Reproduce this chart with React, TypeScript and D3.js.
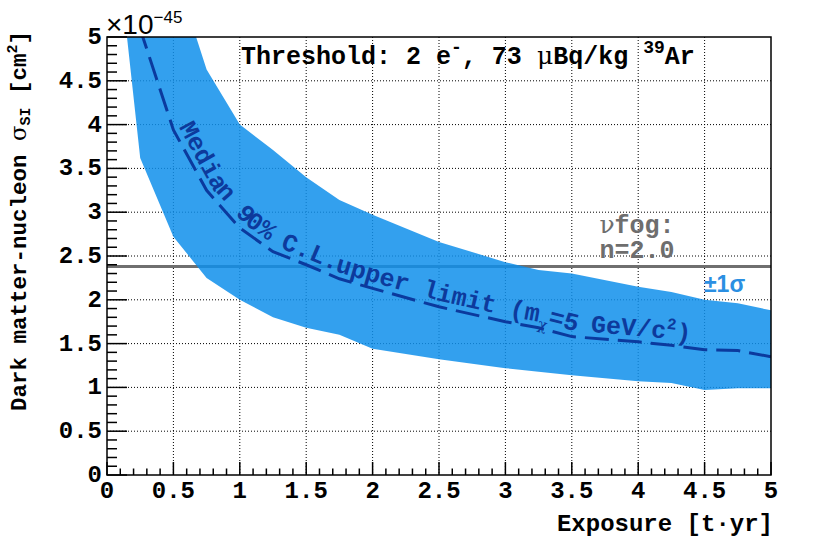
import React from 'react';
import * as d3 from 'd3';

// ---- data ----
const exposure = [0.1, 0.25, 0.5, 0.75, 1.0, 1.25, 1.5, 1.75, 2.0, 2.5, 3.0, 3.25, 3.5, 4.0, 4.25, 4.5, 4.75, 5.0];
const lowerBand = [5.7, 3.62, 2.72, 2.25, 2.0, 1.8, 1.68, 1.6, 1.44, 1.32, 1.22, 1.18, 1.14, 1.07, 1.05, 0.97, 0.99, 0.99];
const medianLimit = [7.0, 5.09, 3.94, 3.25, 2.82, 2.55, 2.4, 2.24, 2.13, 1.92, 1.75, 1.68, 1.58, 1.52, 1.48, 1.43, 1.42, 1.35];
const upperBand = [12.0, 7.5, 5.8, 4.63, 4.0, 3.71, 3.4, 3.14, 2.97, 2.66, 2.43, 2.34, 2.3, 2.15, 2.09, 2.0, 1.96, 1.88];
const fogLevel = [2.38];
const xDomain = [0, 5];
const yDomain = [0, 5];

const W = 830;
const H = 546;
const PL = 107, PR = 771, PT = 37, PB = 475;
const MONO = "'Liberation Mono', 'DejaVu Sans Mono', monospace";
const SANS = "'Liberation Sans', Arial, sans-serif";
const GREEK = "'DejaVu Serif', 'Liberation Serif', serif";

type P = { e: number; lo: number; med: number; hi: number };

export default function App() {
  const x = d3.scaleLinear().domain(xDomain).range([PL, PR]);
  const y = d3.scaleLinear().domain(yDomain).range([PB, PT]);
  const pts: P[] = exposure.map((e, i) => ({ e, lo: lowerBand[i], med: medianLimit[i], hi: upperBand[i] }));
  const area = d3.area<P>().x(d => x(d.e)).y0(d => y(d.lo)).y1(d => y(d.hi));
  const line = d3.line<P>().x(d => x(d.e)).y(d => y(d.med));
  const textPts = pts.filter(p => p.e >= 0.5);

  const xMajor = x.ticks(10);
  const xMinor = x.ticks(50);
  const yMajor = y.ticks(10);
  const yMinor = y.ticks(50);
  const fmt = (v: number) => String(+v.toFixed(2));

  return (
    <svg width={W} height={H} style={{ position: 'absolute', left: 0, top: 0, background: '#fff' }}>
      <defs>
        <clipPath id="plotClip">
          <rect x={PL} y={PT} width={PR - PL} height={PB - PT} />
        </clipPath>
        <path id="medTextPath" d={line(textPts) || ''} />
      </defs>
      <rect x={0} y={0} width={W} height={H} fill="#fff" />

      {/* grid */}
      <g stroke="#000" strokeWidth={1} strokeDasharray="1 2">
        {xMajor.filter(v => v > 0 && v < 5).map(v => (
          <line key={'gx' + v} x1={x(v)} x2={x(v)} y1={PT} y2={PB} />
        ))}
        {yMajor.filter(v => v > 0 && v < 5).map(v => (
          <line key={'gy' + v} x1={PL} x2={PR} y1={y(v)} y2={y(v)} />
        ))}
      </g>

      {/* neutrino fog line */}
      <line x1={PL} x2={PR} y1={y(fogLevel[0])} y2={y(fogLevel[0])} stroke="#6f6f6f" strokeWidth={3} />

      <g clipPath="url(#plotClip)">
        <path d={area(pts) || ''} fill="rgb(15,143,235)" fillOpacity={0.85} />
        <path d={line(pts) || ''} fill="none" stroke="#0b3a9e" strokeWidth={3} strokeDasharray="24 9" />
      </g>

      {/* curved label */}
      <text fill="#0d3a9c" fontFamily={MONO} fontWeight="bold" fontSize={25} style={{ whiteSpace: 'pre' }}>
        <textPath href="#medTextPath" startOffset={0}>
          <tspan dy={-6}>Median 90% C.L.upper limit (m</tspan>
          <tspan fontFamily={GREEK} fontWeight="normal" fontSize={15} dy={7}>χ</tspan>
          <tspan dy={-7}>=5 GeV/c</tspan>
          <tspan fontSize={16} dy={-10}>2</tspan>
          <tspan dy={10}>)</tspan>
        </textPath>
      </text>

      {/* threshold title */}
      <text x={241} y={64} fontFamily={MONO} fontWeight="bold" fontSize={25} fill="#000" style={{ whiteSpace: 'pre' }}>
        <tspan>Threshold: 2 e</tspan>
        <tspan fontSize={18} dy={-11}>-</tspan>
        <tspan dy={11}>, 73 </tspan>
        <tspan fontFamily={GREEK} fontWeight="normal">μ</tspan>
        <tspan>Bq/kg </tspan>
        <tspan fontSize={18} dy={-11}>39</tspan>
        <tspan dy={11}>Ar</tspan>
      </text>

      {/* fog labels */}
      <text x={637} y={233} textAnchor="middle" fontFamily={MONO} fontWeight="bold" fontSize={25} fill="#6e6e6e">
        <tspan fontFamily={GREEK} fontWeight="normal">ν</tspan>fog:
      </text>
      <text x={637} y={258} textAnchor="middle" fontFamily={MONO} fontWeight="bold" fontSize={25} fill="#6e6e6e">n=2.0</text>

      {/* ±1σ */}
      <text x={704} y={292} fontFamily={SANS} fontWeight="bold" fontSize={23} fill="#2b8fe2">±1σ</text>

      {/* frame */}
      <rect x={PL} y={PT} width={PR - PL} height={PB - PT} fill="none" stroke="#000" strokeWidth={1.5} />

      {/* ticks */}
      <g stroke="#000" strokeWidth={1.5}>
        {xMinor.map(v => {
          const major = xMajor.some(m => Math.abs(m - v) < 1e-9);
          return <line key={'tx' + v} x1={x(v)} x2={x(v)} y1={PB} y2={PB - (major ? 13 : 6.5)} />;
        })}
        {yMinor.map(v => {
          const major = yMajor.some(m => Math.abs(m - v) < 1e-9);
          return <line key={'ty' + v} x1={PL} x2={PL + (major ? 20 : 10)} y1={y(v)} y2={y(v)} />;
        })}
      </g>

      {/* tick labels */}
      <g fontFamily={MONO} fontWeight="bold" fontSize={24} fill="#000">
        {xMajor.map(v => (
          <text key={'lx' + v} x={x(v)} y={498} textAnchor="middle">{fmt(v)}</text>
        ))}
        {yMajor.map(v => (
          <text key={'ly' + v} x={102} y={y(v) + 7} textAnchor="end">{fmt(v)}</text>
        ))}
      </g>

      {/* exponent */}
      <text x={106} y={34} fontFamily={SANS} fontSize={28} fill="#000">
        ×10<tspan fontSize={17} dy={-11}>−45</tspan>
      </text>

      {/* axis titles */}
      <text x={773} y={531} textAnchor="end" fontFamily={MONO} fontWeight="bold" fontSize={24} fill="#000">Exposure [t·yr]</text>
      <text transform="translate(26,31) rotate(-90)" textAnchor="end" fontFamily={MONO} fontWeight="bold" fontSize={22.5} fill="#000" style={{ whiteSpace: 'pre' }}>
        <tspan>Dark matter-nucleon </tspan>
        <tspan fontFamily={GREEK} fontWeight="normal">σ</tspan>
        <tspan fontSize={15} dy={4}>SI</tspan>
        <tspan dy={-4}> [cm</tspan>
        <tspan fontSize={15} dy={-9}>2</tspan>
        <tspan dy={9}>]</tspan>
      </text>
    </svg>
  );
}
